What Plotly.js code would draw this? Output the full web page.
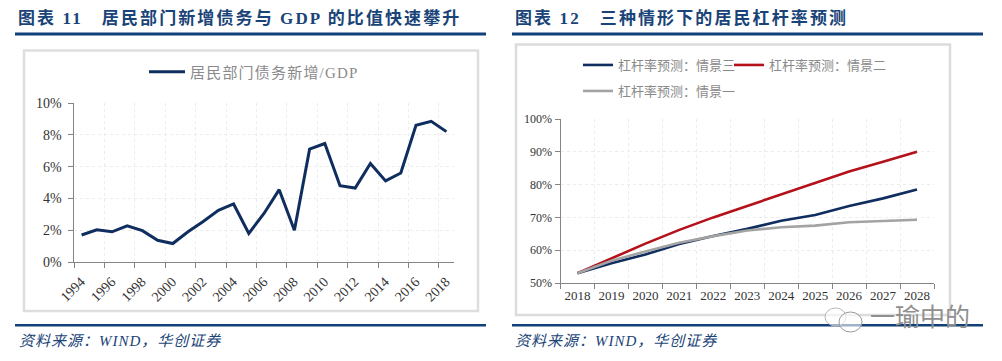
<!DOCTYPE html>
<html><head><meta charset="utf-8">
<script src="https://cdn.plot.ly/plotly-3.0.1.min.js"></script>
<style>html,body{margin:0;padding:0;background:#fff}#c{width:1002px;height:361px}
text[style*="font-size: 17px"]{letter-spacing:2.1px}
text[style*="font-size: 15px"]{letter-spacing:1px}
text.legendtext[style*="font-size: 15px"]{letter-spacing:1.2px}
</style>
</head><body><div id="c"></div>
<script>
const debtYears = [1994,1995,1996,1997,1998,1999,2000,2001,2002,2003,2004,2005,2006,2007,2008,2009,2010,2011,2012,2013,2014,2015,2016,2017,2018];
const debtRatio = [1.7,2.02,1.9,2.28,1.97,1.37,1.16,1.9,2.55,3.25,3.65,1.8,3.05,4.55,2.0,7.1,7.45,4.8,4.65,6.2,5.1,5.6,8.6,8.85,8.2];
const forecastYears = ['2018','2019','2020','2021','2022','2023','2024','2025','2026','2027','2028'];
const scenario3 = [53,56,58.7,61.9,64.3,66.5,69,70.7,73.5,75.8,78.5];
const scenario2 = [53,57.5,62,66.2,70,73.5,77,80.5,84,87,90];
const scenario1 = [53,56.8,59.6,62.3,64.3,66,67,67.5,68.5,69,69.3];
const leftTicks = [1994,1996,1998,2000,2002,2004,2006,2008,2010,2012,2014,2016,2018];

const W=1002,H=361;
const px=v=>v/W, py=v=>1-v/H;
const LAT='"Liberation Serif","Noto Sans CJK SC",serif';
const BLUE='#1a4478';
const rect=(x0,y0,x1,y1,fill,line,lw)=>({type:'rect',xref:'paper',yref:'paper',x0:px(x0),x1:px(x1),y0:py(y0),y1:py(y1),fillcolor:fill,line:{color:line||fill,width:lw||0},layer:'below'});
const note=(x,y,text,size,color,extra)=>Object.assign({xref:'paper',yref:'paper',x:px(x),y:py(y),text,showarrow:false,xanchor:'left',yanchor:'middle',borderpad:0,
  font:Object.assign({family:LAT,size,color},extra||{})});

const axisCommon={showgrid:true,gridcolor:'#ececec',griddash:'dot',gridwidth:1,zeroline:false,showline:true,linecolor:'#858585',linewidth:1,
  ticks:'outside',ticklen:5,tickcolor:'#858585',tickwidth:1,tickfont:{family:LAT,size:13,color:'#333'}};

const traces=[
 {x:debtYears.map(y=>y+0.5),y:debtRatio,xaxis:'x',yaxis:'y',type:'scatter',mode:'lines',name:'居民部门债务新增/GDP',
  line:{color:'#0f2d5e',width:3},legend:'legend'},
 {x:forecastYears,y:scenario3,xaxis:'x2',yaxis:'y2',type:'scatter',mode:'lines',name:'杠杆率预测：情景三',
  line:{color:'#0f2d5e',width:2.6},legend:'legend2'},
 {x:forecastYears,y:scenario2,xaxis:'x2',yaxis:'y2',type:'scatter',mode:'lines',name:'杠杆率预测：情景二',
  line:{color:'#b5111b',width:2.6},legend:'legend4'},
 {x:forecastYears,y:scenario1,xaxis:'x2',yaxis:'y2',type:'scatter',mode:'lines',name:'杠杆率预测：情景一',
  line:{color:'#a3a3a3',width:2.6},legend:'legend3'}
];

const legendFont={family:LAT,size:13,color:'#8a8a8a'};
const subLegend=(x,y)=>({x:px(x),y:py(y),xanchor:'left',yanchor:'middle',orientation:'h',bgcolor:'rgba(0,0,0,0)',font:legendFont,itemwidth:30});
const layout={
 width:W,height:H,margin:{l:0,r:0,t:0,b:0},paper_bgcolor:'#fff',plot_bgcolor:'rgba(0,0,0,0)',
 xaxis:Object.assign({},axisCommon,{domain:[px(74),px(454)],anchor:'y',range:[1994,2019],tickmode:'array',tickvals:leftTicks,ticktext:leftTicks.map(String),
   tickangle:-45,ticklabelshift:7,tickfont:{family:LAT,size:14,color:'#333'}}),
 yaxis:Object.assign({},axisCommon,{domain:[py(262),py(103)],anchor:'x',range:[0,10],dtick:2,ticksuffix:'%\u00a0',tickfont:{family:LAT,size:14,color:'#333'}}),
 xaxis2:Object.assign({},axisCommon,{domain:[px(560.5),px(934)],anchor:'y2',type:'category',tickson:'boundaries',range:[-0.5,10.5],tickangle:0}),
 yaxis2:Object.assign({},axisCommon,{domain:[py(283),py(119)],anchor:'x2',range:[50,100],dtick:10,ticksuffix:'%',tickfont:{family:LAT,size:12,color:'#333'}}),
 legend:{x:px(144),y:py(72),xanchor:'left',yanchor:'middle',orientation:'h',bgcolor:'rgba(0,0,0,0)',font:Object.assign({},legendFont,{size:15}),itemwidth:36},
 legend2:subLegend(578,65),
 legend3:subLegend(578,91),
 legend4:subLegend(729,65),
 showlegend:true,
 shapes:[
  rect(24,50.5,478,311,'#ffffff','#dedede',2.5),
  rect(516,44.5,950,315,'#ffffff','#dcdcdc',2.5),
  rect(15,32.5,486,35.5,'#12407a'),
  rect(512,32.5,983,35.5,'#12407a'),
  rect(15,324,486,326.5,'#12407a'),
  rect(512,324,983,326.5,'#12407a'),
  {type:'circle',xref:'paper',yref:'paper',x0:px(825),x1:px(846),y0:py(326),y1:py(308),line:{color:'#b8b8b8',width:1},fillcolor:'rgba(255,255,255,0.6)'},
  {type:'circle',xref:'paper',yref:'paper',x0:px(839),x1:px(862),y0:py(332),y1:py(312),line:{color:'#9a9a9a',width:1},fillcolor:'rgba(255,255,255,0.6)'}
 ],
 annotations:[
  note(17,18,'图表 11\u00a0\u00a0\u00a0居民部门新增债务与 GDP 的比值快速攀升',17,BLUE,{weight:700}),
  note(514,18,'图表 12\u00a0\u00a0\u00a0三种情形下的居民杠杆率预测',17,BLUE,{weight:700}),
  note(18,341,'资料来源：WIND，华创证券',15,BLUE,{style:'italic'}),
  note(514,341,'资料来源：WIND，华创证券',15,BLUE,{style:'italic'}),
  note(869,317,'一瑜中的',25,'#8f8f8f')
 ]
};
Plotly.newPlot('c',traces,layout,{displayModeBar:false,staticPlot:true});
</script></body></html>
